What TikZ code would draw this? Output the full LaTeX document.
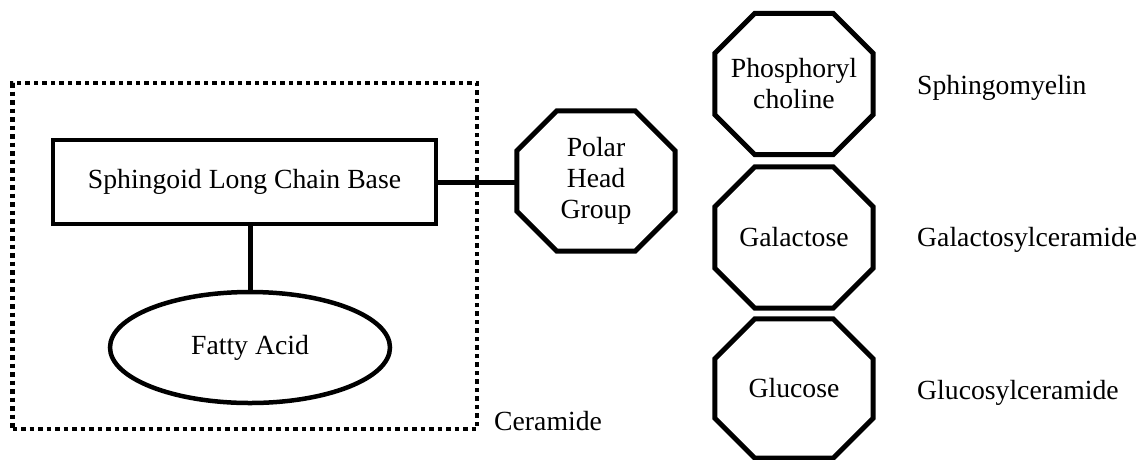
\documentclass[tikz,border=0pt]{standalone}
\usepackage{fontspec}
\setmainfont{Liberation Serif}
\usetikzlibrary{calc,shapes.geometric}
\tikzset{
  txt/.style={font=\fontsize{27.7}{31}\selectfont, inner sep=0pt, align=center},
  boxline/.style={line width=4.5pt},
  octline/.style={line width=5pt, line join=miter},
  octbox/.style={txt, minimum width=158pt, minimum height=141pt, draw=none},
  cerbox/.style={draw, line width=4.5pt, dash pattern=on 4.5pt off 4pt, minimum width=464.5pt, minimum height=346pt, inner sep=0pt},
  lab/.style={txt, anchor=west},
  conn/.style={line width=5pt}
}
\newcommand{\octdraw}[1]{%
  \draw[octline] ($(#1.north west)+(40,0)$) -- ($(#1.north east)+(-40,0)$) -- ($(#1.north east)+(0,40)$) -- ($(#1.south east)+(0,-40)$) -- ($(#1.south east)+(-40,0)$) -- ($(#1.south west)+(40,0)$) -- ($(#1.south west)+(0,-40)$) -- ($(#1.north west)+(0,40)$) -- cycle;}
\begin{document}
\begin{tikzpicture}[x=1pt,y=-1pt]
\useasboundingbox (0,0) rectangle (1148,459);
% Ceramide dotted box
\node[cerbox] (cer) at (244.75,256) {};
\node[lab] (cerlab) at (494,421) {Ceramide};
% sphingoid base
\node[txt, draw, boxline, minimum width=383pt, minimum height=84pt] (sph) at (244.5,182) {Sphingoid Long Chain Base};
% fatty acid
\node[txt, draw, boxline, ellipse, minimum width=280pt, minimum height=111pt] (fa) at (250,347.5) {Fatty Acid};
% polar head
\node[octbox, minimum height=140pt] (polar) at (596,181) {Polar\\Head\\Group};
\octdraw{polar}
% right column
\node[octbox] (phos) at (794,84) {Phosphoryl\\choline};
\octdraw{phos}
\node[octbox] (gal) at (794,237.5) {Galactose};
\octdraw{gal}
\node[octbox, minimum height=139pt] (glu) at (794,388.5) {Glucose};
\octdraw{glu}
\node[lab] (sm) at (917,88) {Sphingomyelin};
\node[lab] (galcer) at (917,240) {Galactosylceramide};
\node[lab] (glucer) at (917,393) {Glucosylceramide};
% connectors
\draw[conn] (sph.east) -- (sph.east -| polar.west);
\draw[conn] (fa.north |- sph.south) -- (fa.north);
\end{tikzpicture}
\end{document}
